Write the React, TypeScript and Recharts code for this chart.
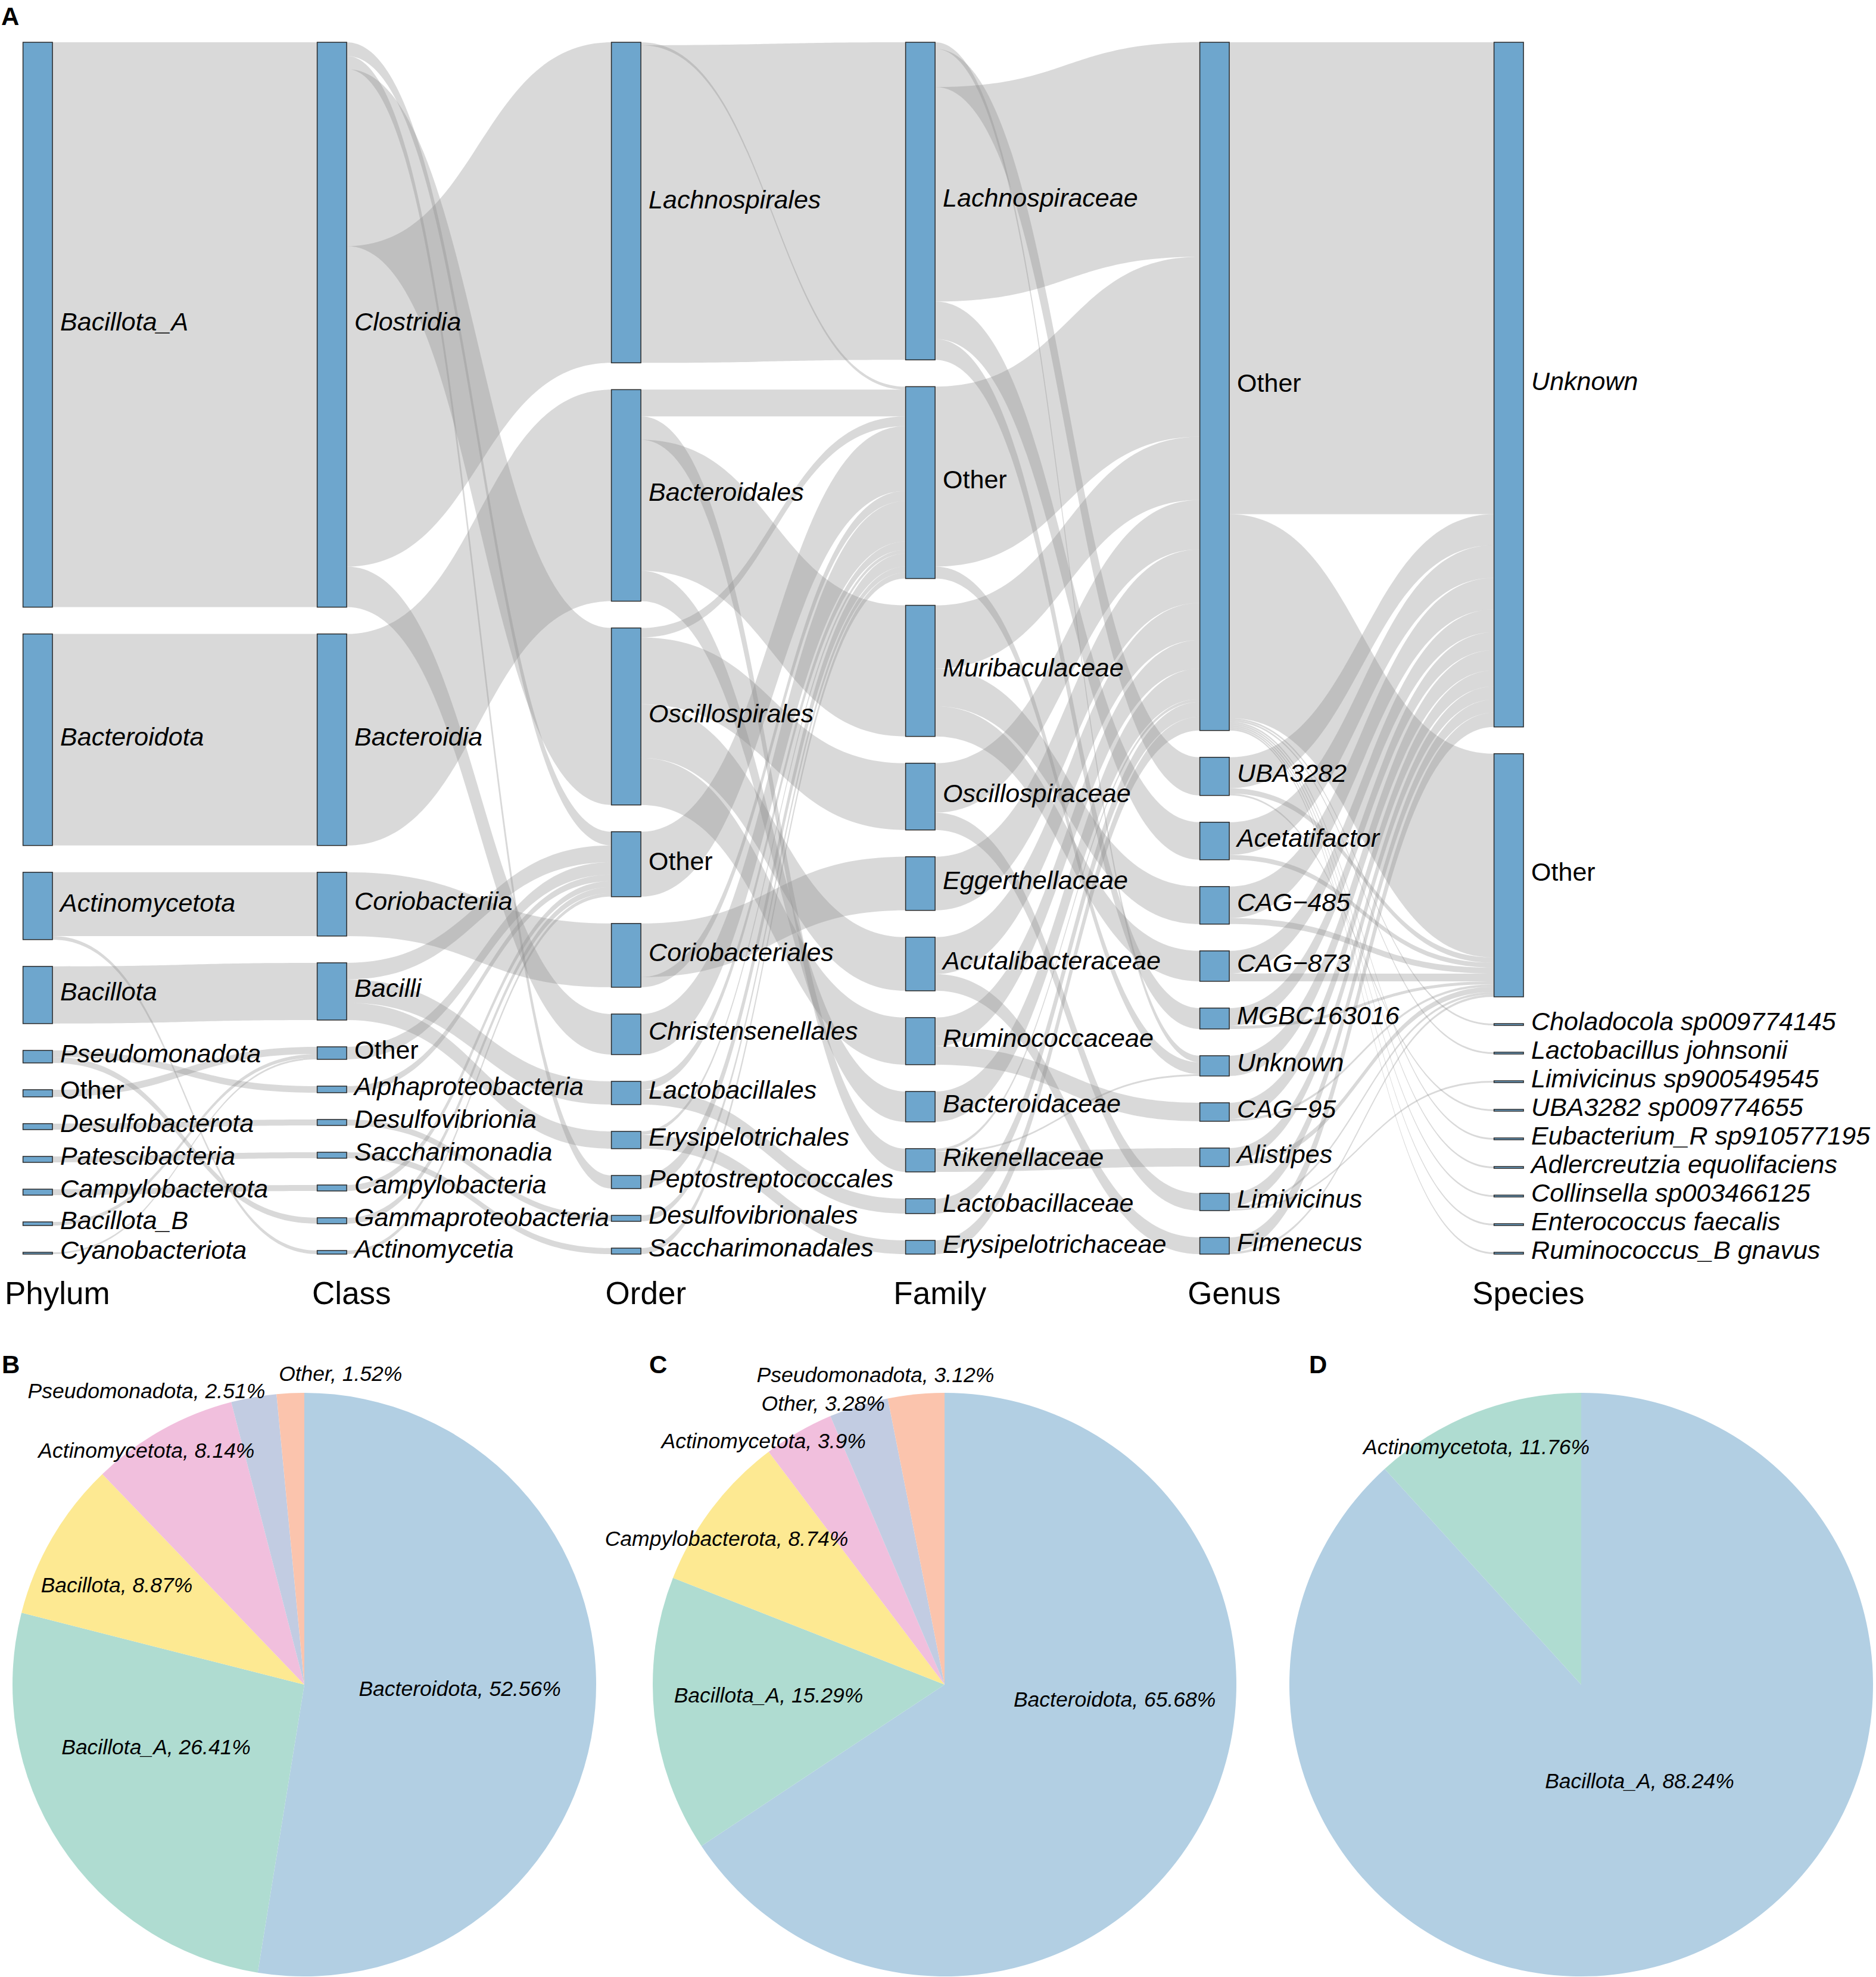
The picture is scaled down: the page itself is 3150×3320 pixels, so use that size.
import React from "react";
import { Sankey, PieChart, Pie, Cell } from "recharts";

type Flow = [string, string, number];

const FONT = '"Liberation Sans", Arial, Helvetica, sans-serif';

// ---- Sankey levels (top to bottom) ----
const levelTitles = ["Phylum", "Class", "Order", "Family", "Genus", "Species"];

const phylum = ["Bacillota_A", "Bacteroidota", "Actinomycetota", "Bacillota", "Pseudomonadota", "Other",
  "Desulfobacterota", "Patescibacteria", "Campylobacterota", "Bacillota_B", "Cyanobacteriota"];
const classes = ["Clostridia", "Bacteroidia", "Coriobacteriia", "Bacilli", "Other", "Alphaproteobacteria",
  "Desulfovibrionia", "Saccharimonadia", "Campylobacteria", "Gammaproteobacteria", "Actinomycetia"];
const orders = ["Lachnospirales", "Bacteroidales", "Oscillospirales", "Other", "Coriobacteriales",
  "Christensenellales", "Lactobacillales", "Erysipelotrichales", "Peptostreptococcales",
  "Desulfovibrionales", "Saccharimonadales"];
const families = ["Lachnospiraceae", "Other", "Muribaculaceae", "Oscillospiraceae", "Eggerthellaceae",
  "Acutalibacteraceae", "Ruminococcaceae", "Bacteroidaceae", "Rikenellaceae", "Lactobacillaceae",
  "Erysipelotrichaceae"];
const genera = ["Other", "UBA3282", "Acetatifactor", "CAG\u2212485", "CAG\u2212873", "MGBC163016", "Unknown",
  "CAG\u221295", "Alistipes", "Limivicinus", "Fimenecus"];
const species = ["Unknown", "Other", "Choladocola sp009774145", "Lactobacillus johnsonii",
  "Limivicinus sp900549545", "UBA3282 sp009774655", "Eubacterium_R sp910577195",
  "Adlercreutzia equolifaciens", "Collinsella sp003466125", "Enterococcus faecalis", "Ruminococcus_B gnavus"];

// flows between neighbouring levels, listed in the order they leave each node
const phylumToClass: Flow[] = [
  ["Bacillota_A", "Clostridia", 948],
  ["Bacteroidota", "Bacteroidia", 355],
  ["Actinomycetota", "Coriobacteriia", 107],
  ["Actinomycetota", "Actinomycetia", 6],
  ["Bacillota", "Bacilli", 96],
  ["Pseudomonadota", "Alphaproteobacteria", 11],
  ["Pseudomonadota", "Gammaproteobacteria", 10],
  ["Other", "Other", 12],
  ["Desulfobacterota", "Desulfovibrionia", 10],
  ["Patescibacteria", "Saccharimonadia", 10],
  ["Campylobacterota", "Campylobacteria", 10],
  ["Bacillota_B", "Other", 6],
  ["Cyanobacteriota", "Other", 3],
];

const classToOrder: Flow[] = [
  ["Clostridia", "Other", 23],
  ["Clostridia", "Peptostreptococcales", 22],
  ["Clostridia", "Oscillospirales", 297],
  ["Clostridia", "Lachnospirales", 538],
  ["Clostridia", "Christensenellales", 68],
  ["Bacteroidia", "Bacteroidales", 355],
  ["Coriobacteriia", "Coriobacteriales", 107],
  ["Bacilli", "Other", 28],
  ["Bacilli", "Lactobacillales", 39],
  ["Bacilli", "Erysipelotrichales", 29],
  ["Other", "Other", 21],
  ["Alphaproteobacteria", "Other", 11],
  ["Desulfovibrionia", "Desulfovibrionales", 10],
  ["Saccharimonadia", "Saccharimonadales", 10],
  ["Campylobacteria", "Other", 10],
  ["Gammaproteobacteria", "Other", 10],
  ["Actinomycetia", "Other", 6],
];

const orderToFamily: Flow[] = [
  ["Lachnospirales", "Other", 5],
  ["Lachnospirales", "Lachnospiraceae", 533],
  ["Bacteroidales", "Other", 45],
  ["Bacteroidales", "Rikenellaceae", 39],
  ["Bacteroidales", "Muribaculaceae", 220],
  ["Bacteroidales", "Bacteroidaceae", 51],
  ["Oscillospirales", "Other", 16],
  ["Oscillospirales", "Oscillospiraceae", 112],
  ["Oscillospirales", "Acutalibacteraceae", 90],
  ["Oscillospirales", "Ruminococcaceae", 79],
  ["Other", "Other", 109],
  ["Coriobacteriales", "Eggerthellaceae", 90],
  ["Coriobacteriales", "Other", 17],
  ["Christensenellales", "Other", 68],
  ["Lactobacillales", "Other", 14],
  ["Lactobacillales", "Lactobacillaceae", 25],
  ["Erysipelotrichales", "Other", 6],
  ["Erysipelotrichales", "Erysipelotrichaceae", 23],
  ["Peptostreptococcales", "Other", 22],
  ["Desulfovibrionales", "Other", 10],
  ["Saccharimonadales", "Other", 10],
];

const familyToGenus: Flow[] = [
  ["Lachnospiraceae", "Unknown", 11],
  ["Lachnospiraceae", "UBA3282", 64],
  ["Lachnospiraceae", "Other", 360],
  ["Lachnospiraceae", "Acetatifactor", 63],
  ["Lachnospiraceae", "MGBC163016", 35],
  ["Other", "Other", 302],
  ["Other", "Unknown", 20],
  ["Muribaculaceae", "Other", 106],
  ["Muribaculaceae", "CAG\u2212485", 63],
  ["Muribaculaceae", "CAG\u2212873", 51],
  ["Oscillospiraceae", "Other", 83],
  ["Oscillospiraceae", "Limivicinus", 29],
  ["Eggerthellaceae", "Other", 90],
  ["Acutalibacteraceae", "Other", 62],
  ["Acutalibacteraceae", "Fimenecus", 28],
  ["Ruminococcaceae", "Other", 48],
  ["Ruminococcaceae", "CAG\u221295", 31],
  ["Bacteroidaceae", "Other", 51],
  ["Rikenellaceae", "Other", 5],
  ["Rikenellaceae", "Unknown", 3],
  ["Rikenellaceae", "Alistipes", 31],
  ["Lactobacillaceae", "Other", 25],
  ["Erysipelotrichaceae", "Other", 23],
];

const genusToSpecies: Flow[] = [
  ["Other", "Unknown", 792],
  ["Other", "Other", 342],
  ["Other", "Choladocola sp009774145", 3],
  ["Other", "Lactobacillus johnsonii", 3],
  ["Other", "Eubacterium_R sp910577195", 3],
  ["Other", "Adlercreutzia equolifaciens", 3],
  ["Other", "Collinsella sp003466125", 3],
  ["Other", "Enterococcus faecalis", 3],
  ["Other", "Ruminococcus_B gnavus", 3],
  ["UBA3282", "Unknown", 52],
  ["UBA3282", "Other", 9],
  ["UBA3282", "UBA3282 sp009774655", 3],
  ["Acetatifactor", "Unknown", 55],
  ["Acetatifactor", "Other", 8],
  ["CAG\u2212485", "Unknown", 53],
  ["CAG\u2212485", "Other", 10],
  ["CAG\u2212873", "Unknown", 38],
  ["CAG\u2212873", "Other", 13],
  ["MGBC163016", "Unknown", 30],
  ["MGBC163016", "Other", 5],
  ["Unknown", "Unknown", 34],
  ["CAG\u221295", "Unknown", 27],
  ["CAG\u221295", "Other", 4],
  ["Alistipes", "Unknown", 22],
  ["Alistipes", "Other", 9],
  ["Limivicinus", "Unknown", 22],
  ["Limivicinus", "Other", 4],
  ["Limivicinus", "Limivicinus sp900549545", 3],
  ["Fimenecus", "Unknown", 24],
  ["Fimenecus", "Other", 4],
];

// ---- pies ----
const pieBNames = ["Bacteroidota", "Bacillota_A", "Bacillota", "Actinomycetota", "Pseudomonadota", "Other"];
const pieBValues = [52.56, 26.41, 8.87, 8.14, 2.51, 1.52];
const pieCNames = ["Bacteroidota", "Bacillota_A", "Campylobacterota", "Actinomycetota", "Other", "Pseudomonadota"];
const pieCValues = [65.68, 15.29, 8.74, 3.9, 3.28, 3.12];
const pieDNames = ["Bacillota_A", "Actinomycetota"];
const pieDValues = [88.24, 11.76];

const pieColors = ["#b2cfe3", "#afdcd1", "#fde992", "#f1bfdd", "#c2cce2", "#fbc4ad"];

// label anchor relative to pie centre, in units of the radius
const pieBLabelPos = [[0.533, 0.014], [-0.508, 0.214], [-0.643, -0.341], [-0.541, -0.802], [-0.541, -1.006], [0.124, -1.065]];
const pieCLabelPos = [[0.583, 0.05], [-0.603, 0.036], [-0.747, -0.499], [-0.62, -0.835], [-0.416, -0.963], [-0.237, -1.062]];
const pieDLabelPos = [[0.2, 0.331], [-0.359, -0.814]];

// ---- build sankey table ----
const levels = [phylum, classes, orders, families, genera, species];
const flowsByLevel = [phylumToClass, classToOrder, orderToFamily, familyToGenus, genusToSpecies];

const levelStart: number[] = [];
let acc = 0;
levels.forEach((l) => { levelStart.push(acc); acc += l.length; });

const nodes = levels.flatMap((names) => names.map((name) => ({ name })));
const links = flowsByLevel.flatMap((flows, l) =>
  flows.map(([s, t, v]) => ({
    source: levelStart[l] + levels[l].indexOf(s),
    target: levelStart[l + 1] + levels[l + 1].indexOf(t),
    value: v,
  }))
);

// stacking of ribbons inside each node
const srcOffset = links.map((lk, i) =>
  links.slice(0, i).filter((o) => o.source === lk.source).reduce((a, o) => a + o.value, 0)
);
const tgtOffset = links.map((lk) =>
  links.filter((o) => o.target === lk.target && o.source < lk.source).reduce((a, o) => a + o.value, 0)
);

const CURVE = 0.5;

const SankeyLink = (props: any) => {
  const { sourceX, targetX, sourceY, targetY, linkWidth, index, sourceRelativeY, targetRelativeY, payload } = props;
  const ratio = payload.value > 0 ? linkWidth / payload.value : 0;
  const srcTop = sourceY - linkWidth / 2 - (sourceRelativeY ?? 0);
  const tgtTop = targetY - linkWidth / 2 - (targetRelativeY ?? 0);
  const y0 = srcTop + srcOffset[index] * ratio;
  const y1 = tgtTop + tgtOffset[index] * ratio;
  const c0 = sourceX + (targetX - sourceX) * CURVE;
  const c1 = targetX - (targetX - sourceX) * CURVE;
  const w = linkWidth;
  const d = `M${sourceX},${y0}C${c0},${y0} ${c1},${y1} ${targetX},${y1}L${targetX},${y1 + w}C${c1},${y1 + w} ${c0},${y0 + w} ${sourceX},${y0 + w}Z`;
  return <path d={d} fill="#8c8c8c" fillOpacity={0.33} stroke="none" />;
};

const SankeyNode = (props: any) => {
  const { x, y, width, height, index, payload } = props;
  const name: string = payload.name;
  let level = 0;
  levelStart.forEach((s, l) => { if (index >= s) level = l; });
  const first = levelStart.includes(index);
  return (
    <g>
      <rect x={x} y={y} width={width} height={height} fill="#6ea6cd" stroke="#2b2b2b" strokeWidth={1.5} />
      <text
        x={x + width + 13}
        y={y + height / 2 + 9.5}
        fontSize={43}
        fontFamily={FONT}
        fontStyle={name === "Other" ? "normal" : "italic"}
        fill="#000"
      >
        {name}
      </text>
      {first && (
        <text x={x + width / 2 + 33} y={2190} textAnchor="middle" fontSize={53} fontFamily={FONT} fill="#000">
          {levelTitles[level]}
        </text>
      )}
    </g>
  );
};

const makePieLabel = (pos: number[][]) => (props: any) => {
  const { cx, cy, outerRadius, index, name, value } = props;
  const [fx, fy] = pos[index];
  return (
    <text
      x={cx + fx * outerRadius}
      y={cy + fy * outerRadius}
      textAnchor="middle"
      dominantBaseline="central"
      fontSize={35.5}
      fontFamily={FONT}
      fontStyle="italic"
      fill="#000"
    >
      {`${name}, ${value}%`}
    </text>
  );
};

const toPie = (names: string[], values: number[]) => names.map((name, i) => ({ name, value: values[i] }));

export default function App() {
  const pieB = toPie(pieBNames, pieBValues);
  const pieC = toPie(pieCNames, pieCValues);
  const pieD = toPie(pieDNames, pieDValues);

  return (
    <div style={{ position: "absolute", left: 0, top: 0, width: 3150, height: 3320, background: "#fff", fontFamily: FONT }}>
      <div style={{ position: "absolute", left: 0, top: 0 }}>
        <Sankey
          width={3150}
          height={2240}
          data={{ nodes, links }}
          nodeWidth={49.5}
          nodePadding={45}
          iterations={0}
          sort={false}
          margin={{ top: 71, left: 38.6, right: 591.9, bottom: 134 }}
          node={SankeyNode}
          link={SankeyLink}
        />
      </div>

      <div style={{ position: "absolute", left: 0, top: 2220 }}>
        <PieChart width={3150} height={1100} margin={{ top: 0, right: 0, bottom: 0, left: 0 }}>
          <Pie data={pieB} dataKey="value" nameKey="name" cx={511} cy={609} outerRadius={490}
            startAngle={90} endAngle={-270} stroke="none" isAnimationActive={false}
            label={makePieLabel(pieBLabelPos)} labelLine={false}>
            {pieB.map((d, i) => <Cell key={d.name} fill={pieColors[i]} />)}
          </Pie>
          <Pie data={pieC} dataKey="value" nameKey="name" cx={1586} cy={609} outerRadius={490}
            startAngle={90} endAngle={-270} stroke="none" isAnimationActive={false}
            label={makePieLabel(pieCLabelPos)} labelLine={false}>
            {pieC.map((d, i) => <Cell key={d.name} fill={pieColors[i]} />)}
          </Pie>
          <Pie data={pieD} dataKey="value" nameKey="name" cx={2655} cy={609} outerRadius={490}
            startAngle={90} endAngle={-270} stroke="none" isAnimationActive={false}
            label={makePieLabel(pieDLabelPos)} labelLine={false}>
            {pieD.map((d, i) => <Cell key={d.name} fill={pieColors[i]} />)}
          </Pie>
        </PieChart>
      </div>

      <svg width={3150} height={3320} style={{ position: "absolute", left: 0, top: 0, pointerEvents: "none" }}>
        <text x={2} y={42} fontSize={42} fontWeight="bold" fontFamily={FONT}>A</text>
        <text x={3} y={2306} fontSize={42} fontWeight="bold" fontFamily={FONT}>B</text>
        <text x={1090} y={2306} fontSize={42} fontWeight="bold" fontFamily={FONT}>C</text>
        <text x={2198} y={2306} fontSize={42} fontWeight="bold" fontFamily={FONT}>D</text>
      </svg>
    </div>
  );
}
